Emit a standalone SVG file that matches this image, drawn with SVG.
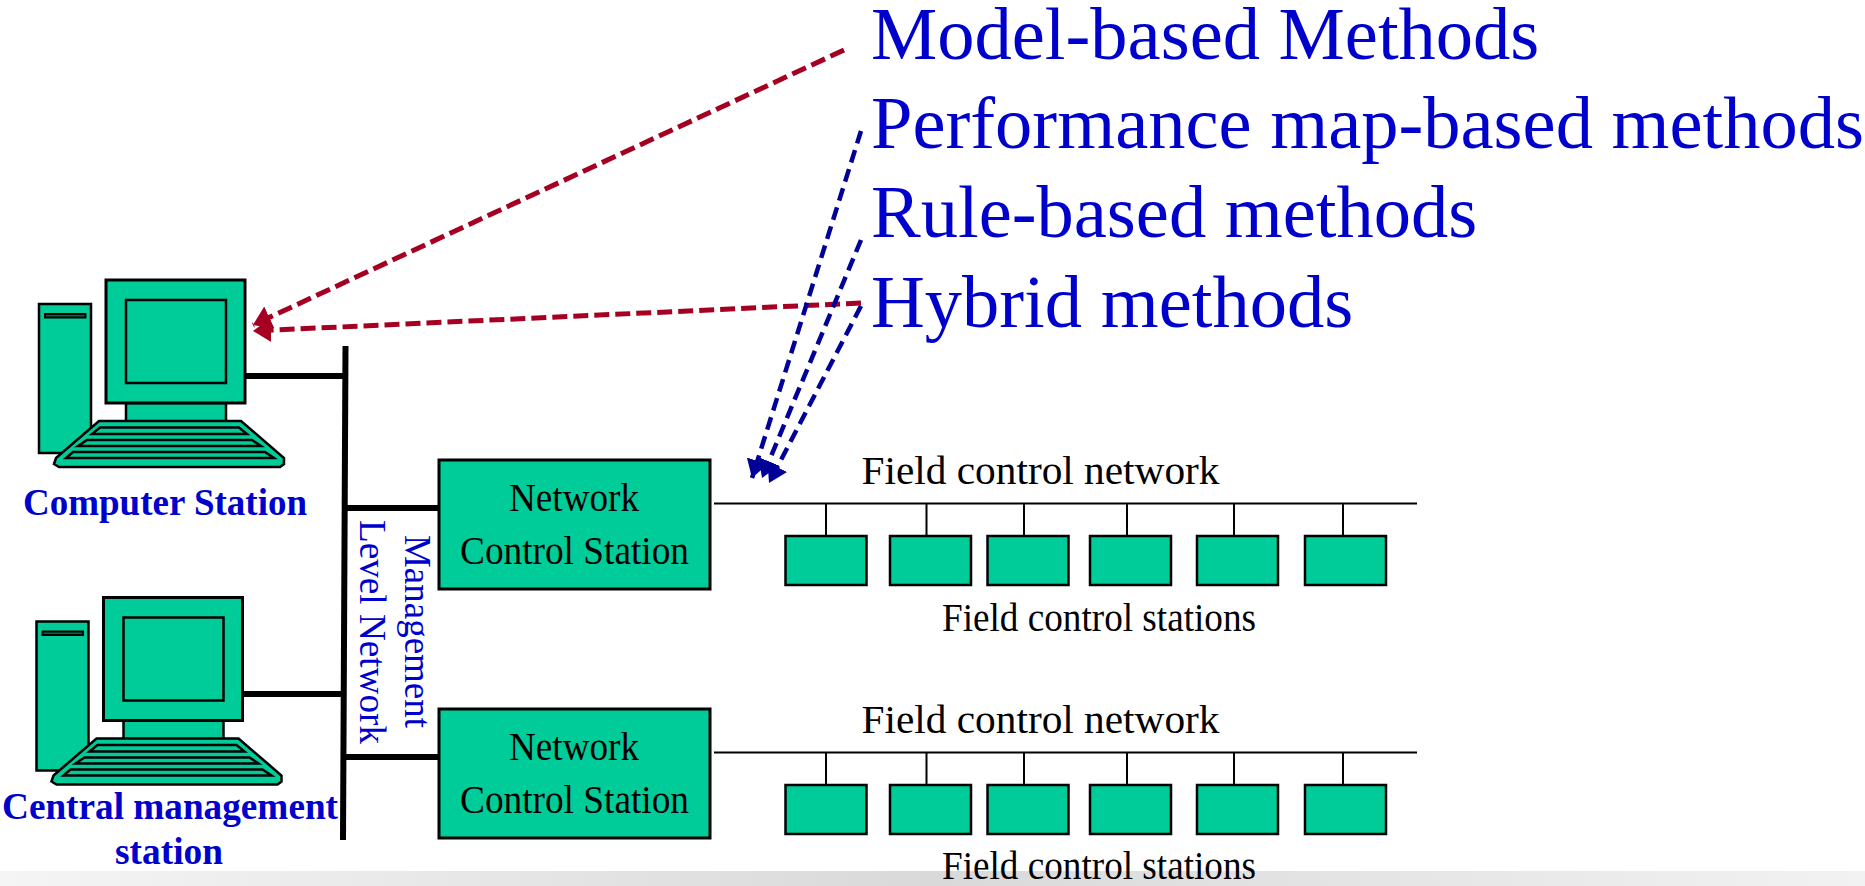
<svg xmlns="http://www.w3.org/2000/svg" xmlns:xlink="http://www.w3.org/1999/xlink" width="1865" height="886" viewBox="0 0 1865 886">
<style>
.g{fill:#00cc99;stroke:#000}
.t{font-family:"Liberation Serif","Times New Roman",serif}
.big{font-size:74.500px;fill:#0000cc}
.blk{font-size:39px;fill:#000}
.bold{font-size:38px;font-weight:bold;fill:#0000cc}
.vert{font-size:37px;fill:#0000cc}
.bus{stroke:#000;stroke-width:6;fill:none}
.thin{stroke:#000;stroke-width:2;fill:none}
.red{stroke:#a50021;stroke-width:5;stroke-dasharray:15 6;fill:none;marker-end:url(#ar)}
.blu{stroke:#000099;stroke-width:4.500;stroke-dasharray:13 7;fill:none;marker-end:url(#ab)}
</style>
<defs>
<marker id="ar" markerUnits="userSpaceOnUse" markerWidth="20" markerHeight="26" refX="18" refY="13" orient="auto"><path d="M0 1L18 13L0 25z" fill="#a50021"/></marker>
<marker id="ab" markerUnits="userSpaceOnUse" markerWidth="20" markerHeight="26" refX="18" refY="13" orient="auto"><path d="M0 2L18 13L0 24z" fill="#000099"/></marker>
<linearGradient id="band" x1="0" x2="1" y1="0" y2="0"><stop offset="0" stop-color="#f5f5f5"/><stop offset=".5" stop-color="#d9d9d9"/><stop offset="1" stop-color="#f2f2f2"/></linearGradient>
<g id="pc">
<rect class="g" x="39" y="304" width="52" height="149" stroke-width="2.500"/>
<rect x="45" y="314" width="40.500" height="3.500" fill="#006a50" stroke="#000" stroke-width="2"/>
<rect class="g" x="126" y="403" width="100" height="20" stroke-width="2.500"/>
<rect class="g" x="106" y="280" width="139" height="123" stroke-width="3"/>
<rect class="g" x="126" y="300" width="100" height="83" stroke-width="2.500"/>
<path class="g" stroke-width="2.500" d="M99 421H241L284 458V464L280 467H59L54 464L56 458z"/>
<path class="g" stroke-width="2.500" d="M100 427.500H239L247 434H92zM87 440H252L261 446H78zM73 452H265L274 458H66z"/>
</g>
<g id="fs"><rect class="g" x="785.500" y="536" width="81" height="49" stroke-width="2.500"/></g>
</defs>
<rect x="0" y="871" width="1865" height="15" fill="url(#band)"/>
<g id="connectors">
<path class="bus" d="M345.500 346L343 840"/>
<path class="bus" d="M245 376H345M243 694H343M345 508H439M343 757H439"/>
<path class="thin" d="M714 503.500H1417M826 503.500V536M926.500 503.500V536M1024 503.500V536M1127 503.500V536M1234 503.500V536M1343 503.500V536"/>
<path class="thin" d="M714 752.500H1417M826 752.500V785M926.500 752.500V785M1024 752.500V785M1127 752.500V785M1234 752.500V785M1343 752.500V785"/>
<path class="red" d="M844 50L253 325"/>
<path class="red" d="M861 303L253 331"/>
<path class="blu" d="M861 131L752 478"/>
<path class="blu" d="M861 240L762 478"/>
<path class="blu" d="M861 306L769 483"/>
</g>
<g id="computer-station"><use xlink:href="#pc"/><text class="t bold" x="23" y="515" textLength="284" lengthAdjust="spacingAndGlyphs">Computer Station</text></g>
<g id="central-management-station"><use xlink:href="#pc" transform="translate(-2.500 317.500)"/><text class="t bold" x="2" y="819" textLength="336" lengthAdjust="spacingAndGlyphs">Central management</text><text class="t bold" x="115" y="864" textLength="108" lengthAdjust="spacingAndGlyphs">station</text></g>
<g id="management-network"><text class="t vert" transform="translate(405 535) rotate(90)" textLength="193" lengthAdjust="spacingAndGlyphs">Management</text><text class="t vert" transform="translate(360 520) rotate(90)" textLength="224" lengthAdjust="spacingAndGlyphs">Level Network</text></g>
<g id="ncs-1"><rect class="g" x="439" y="460" width="271" height="129" stroke-width="3"/><text class="t blk" x="509" y="510.500" textLength="130" lengthAdjust="spacingAndGlyphs">Network</text><text class="t blk" x="460" y="564" textLength="229" lengthAdjust="spacingAndGlyphs">Control Station</text></g>
<g id="ncs-2"><rect class="g" x="439" y="709" width="271" height="129" stroke-width="3"/><text class="t blk" x="509" y="759.500" textLength="130" lengthAdjust="spacingAndGlyphs">Network</text><text class="t blk" x="460" y="813" textLength="229" lengthAdjust="spacingAndGlyphs">Control Station</text></g>
<g id="field-1">
<text class="t blk" x="861.500" y="484" textLength="358" lengthAdjust="spacingAndGlyphs">Field control network</text>
<use xlink:href="#fs"/><use xlink:href="#fs" x="104.500"/><use xlink:href="#fs" x="202"/><use xlink:href="#fs" x="304.500"/><use xlink:href="#fs" x="411.500"/><use xlink:href="#fs" x="519.500"/>
<text class="t blk" x="942" y="631" textLength="314" lengthAdjust="spacingAndGlyphs">Field control stations</text>
</g>
<g id="field-2">
<text class="t blk" x="861.500" y="733" textLength="358" lengthAdjust="spacingAndGlyphs">Field control network</text>
<use xlink:href="#fs" y="249"/><use xlink:href="#fs" x="104.500" y="249"/><use xlink:href="#fs" x="202" y="249"/><use xlink:href="#fs" x="304.500" y="249"/><use xlink:href="#fs" x="411.500" y="249"/><use xlink:href="#fs" x="519.500" y="249"/>
<text class="t blk" x="942" y="879" textLength="314" lengthAdjust="spacingAndGlyphs">Field control stations</text>
</g>
<g id="methods">
<text class="t big" x="871" y="59">Model-based Methods</text>
<text class="t big" x="871" y="148">Performance map-based methods</text>
<text class="t big" x="871" y="237">Rule-based methods</text>
<text class="t big" x="871" y="327">Hybrid methods</text>
</g>
</svg>
